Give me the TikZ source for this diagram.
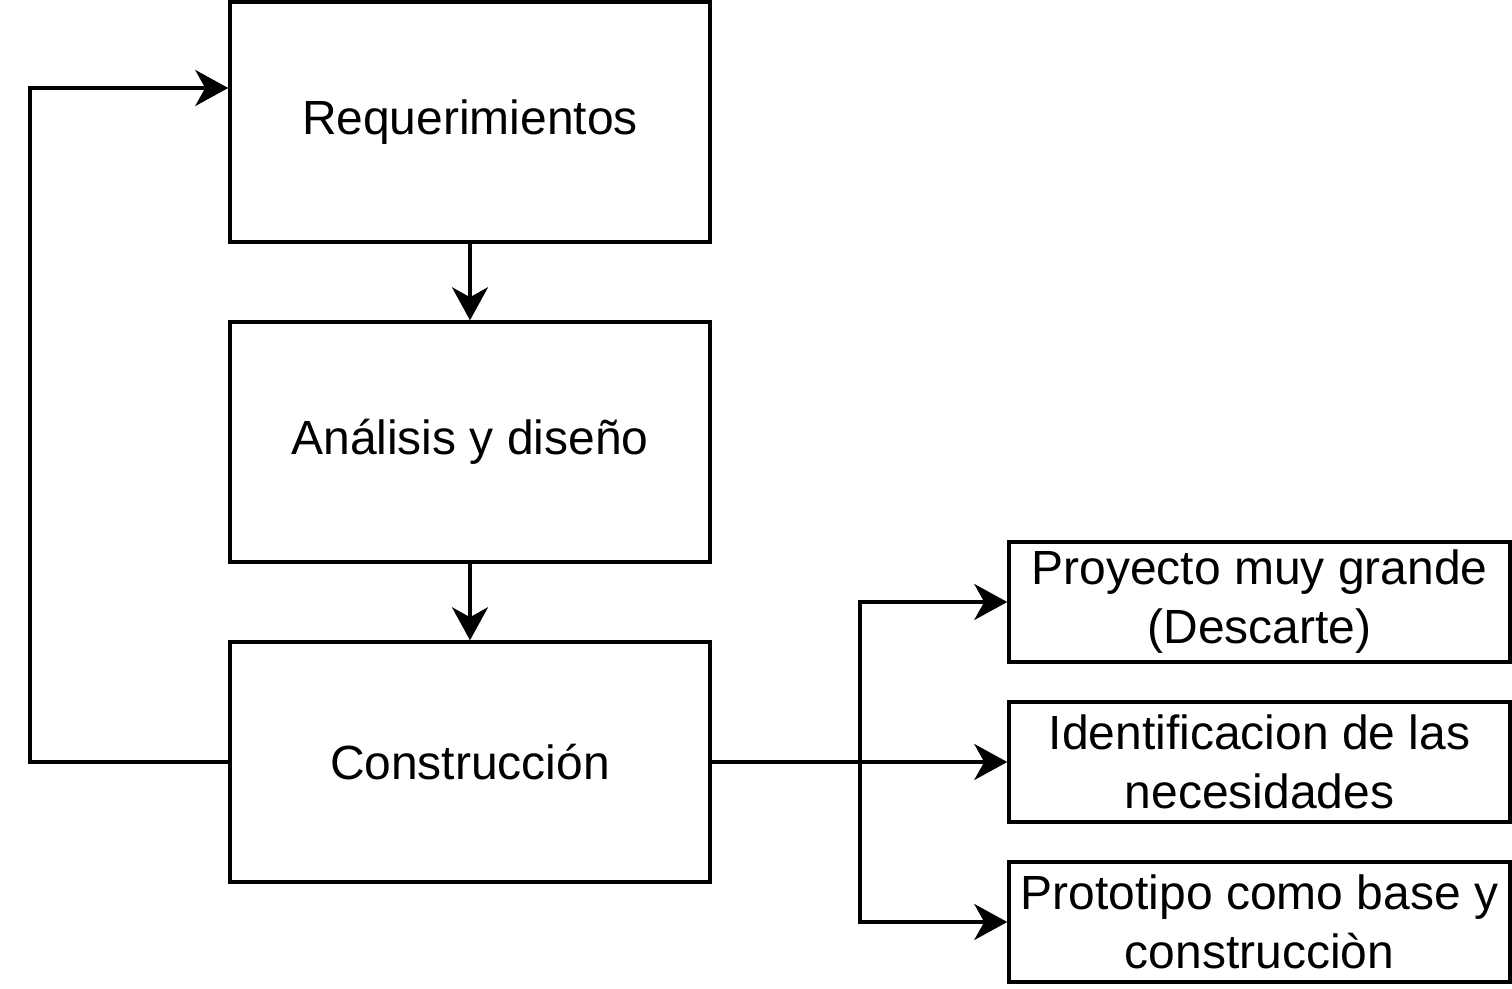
\documentclass[tikz,border=0pt]{standalone}
\usepackage{fontspec}
\setmainfont{Liberation Sans}
\usepackage{tikz}
\usetikzlibrary{arrows.meta,positioning,calc}
\tikzset{
    phase/.style={draw, line width=0.07cm, minimum width=9.6cm, minimum height=4.8cm, align=center, font=\fontsize{27.3}{32.8}\selectfont},
    outcome/.style={draw, line width=0.07cm, minimum width=10.02cm, minimum height=2.4cm, align=center, font=\fontsize{27.3}{33.6}\selectfont},
    solidarr/.style={-{Stealth[length=0.66cm, width=0.72cm, inset=0.2cm]}, line width=0.07cm},
}
\begin{document}
\begin{tikzpicture}
\useasboundingbox (0,0) rectangle (30.24,19.76);
\node[phase] (req) at (9.4,17.32) {Requerimientos};
\node[phase] (analisis) at (9.4,10.92) {Análisis y diseño};
\node[phase] (constr) at (9.4,4.52) {Construcción};
\node[outcome] (grande) at (25.19,7.72) {Proyecto muy grande\\(Descarte)};
\node[outcome] (necesidades) at (25.19,4.52) {Identificacion de las\\necesidades};
\node[outcome] (prototipo) at (25.19,1.32) {Prototipo como base y\\construcciòn};

\draw[solidarr] (req) -- (analisis);
\draw[solidarr] (analisis) -- (constr);
% retorno a requerimientos
\coordinate (loopbottom) at (0.6,4.52);
\coordinate (looptop) at (0.6,18.0);
\draw[solidarr] (constr.west) -- (loopbottom) -- (looptop) -- (looptop -| req.west);
% ramas de salida
\coordinate (branch) at (17.2,4.52);
\draw[solidarr] (constr.east) -- (necesidades.west);
\draw[solidarr] (branch) |- (grande.west);
\draw[solidarr] (branch) |- (prototipo.west);
\end{tikzpicture}
\end{document}
